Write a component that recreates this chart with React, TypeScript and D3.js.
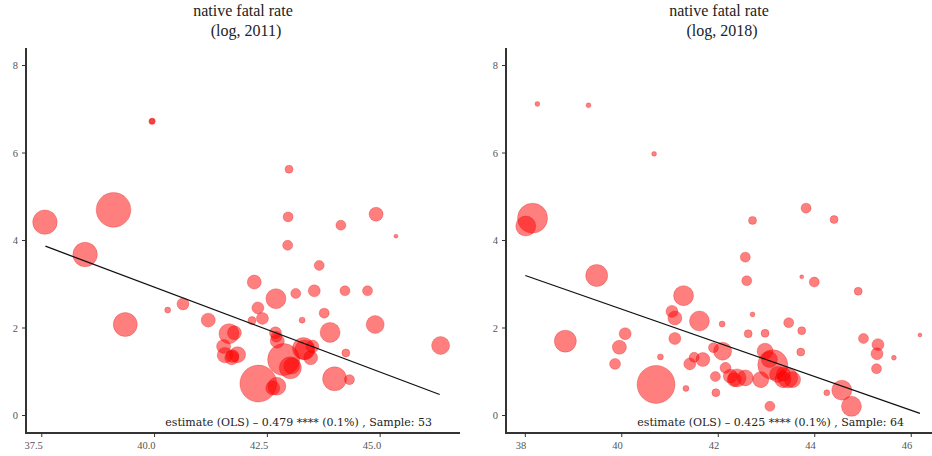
import React from "react";
import * as d3 from "d3";

// ---- Data ----
// Left panel: 2011
const xs2011 = [37.57, 39.09, 39.94, 39.95, 42.98, 42.96, 44.91, 44.13, 45.35, 38.46, 42.95, 43.65, 42.21, 42.69, 43.13, 43.54, 44.22, 44.72, 40.63, 40.29, 42.29, 42.39, 42.16, 43.76, 43.27, 41.19, 39.35, 44.89, 43.89, 41.65, 41.77, 46.34, 42.68, 42.72, 41.53, 41.84, 41.71, 43.3, 43.33, 43.46, 44.24, 42.86, 43.01, 43.04, 42.3, 42.71, 42.62, 43.99, 44.32, 41.56, 41.73, 42.7, 43.5];
const ys2011 = [4.42, 4.7, 6.72, 6.73, 5.63, 4.54, 4.6, 4.35, 4.1, 3.68, 3.89, 3.43, 3.05, 2.67, 2.79, 2.85, 2.85, 2.85, 2.55, 2.41, 2.46, 2.22, 2.17, 2.34, 2.18, 2.18, 2.08, 2.08, 1.9, 1.87, 1.89, 1.6, 1.89, 1.7, 1.58, 1.39, 1.32, 1.53, 1.5, 1.32, 1.43, 1.28, 1.09, 1.13, 0.73, 0.67, 0.63, 0.84, 0.82, 1.38, 1.36, 1.8, 1.58];
const sz2011 = [150, 300, 9, 9, 16, 25, 49, 25, 4, 150, 25, 25, 49, 100, 25, 36, 25, 25, 36, 9, 36, 36, 16, 25, 9, 49, 144, 81, 100, 100, 49, 81, 36, 49, 49, 64, 49, 120, 100, 49, 16, 256, 121, 64, 340, 81, 49, 144, 25, 60, 40, 30, 40];

// Right panel: 2018
const xs2018 = [38.25, 39.31, 40.67, 42.71, 43.82, 44.4, 38.15, 38.01, 42.56, 42.59, 43.73, 43.99, 44.9, 39.48, 41.28, 38.83, 40.07, 39.95, 39.86, 40.71, 40.8, 41.04, 41.1, 41.1, 41.61, 41.33, 41.41, 41.5, 41.68, 42.08, 42.71, 42.62, 42.97, 43.46, 43.73, 43.71, 45.01, 45.31, 45.29, 45.28, 45.64, 46.18, 44.25, 44.56, 44.76, 43.07, 41.95, 41.94, 41.9, 42.09, 42.15, 42.25, 42.39, 42.56, 42.88, 42.97, 43.13, 43.06, 43.23, 43.34, 43.44, 43.54, 42.33, 43.35];
const ys2018 = [7.12, 7.09, 5.98, 4.46, 4.74, 4.48, 4.51, 4.33, 3.62, 3.08, 3.17, 3.05, 2.84, 3.2, 2.74, 1.7, 1.87, 1.56, 1.18, 0.71, 1.34, 2.38, 2.23, 1.76, 2.16, 0.62, 1.18, 1.33, 1.28, 2.09, 2.31, 1.87, 1.88, 2.12, 1.94, 1.45, 1.76, 1.62, 1.41, 1.07, 1.32, 1.84, 0.52, 0.58, 0.21, 0.21, 0.52, 0.89, 1.55, 1.47, 1.09, 0.9, 0.86, 0.86, 0.82, 1.47, 1.16, 1.28, 0.94, 0.82, 0.86, 0.82, 0.82, 0.95];
const sz2018 = [6, 6, 6, 16, 25, 16, 225, 100, 25, 25, 4, 25, 16, 121, 100, 121, 36, 49, 30, 360, 9, 36, 49, 36, 100, 9, 36, 25, 49, 9, 6, 16, 16, 25, 16, 16, 25, 36, 36, 25, 6, 4, 9, 100, 100, 25, 16, 25, 25, 81, 30, 49, 81, 64, 64, 64, 225, 64, 64, 64, 100, 64, 49, 49];

// Regression line endpoints [x, y]
const fit2011X = [37.58, 46.32];
const fit2011Y = [3.87, 0.48];
const fit2018X = [38.0, 46.18];
const fit2018Y = [3.2, 0.05];

const yTicks = [0, 2, 4, 6, 8];
const xTicks2011 = [37.5, 40.0, 42.5, 45.0];
const xTicks2018 = [38, 40, 42, 44, 46];

const titles = ["native fatal rate", "native fatal rate"];
const subtitles = ["(log, 2011)", "(log, 2018)"];
const notes = [
  "estimate (OLS)  \u2013 0.479 **** (0.1%) ,  Sample: 53",
  "estimate (OLS)  \u2013 0.425 **** (0.1%) ,  Sample: 64",
];

type PanelProps = {
  xs: number[];
  ys: number[];
  sz: number[];
  fitX: number[];
  fitY: number[];
  xDomain: [number, number];
  xRange: [number, number];
  xTicks: number[];
  xFmt: (v: number) => string;
  title: string;
  subtitle: string;
  note: string;
};

const yScale = d3.scaleLinear().domain([-0.4, 8.4]).range([433, 48]);
const rScale = d3.scaleSqrt().domain([0, 361]).range([0, 19]);

function Panel(p: PanelProps) {
  const x = d3.scaleLinear().domain(p.xDomain).range(p.xRange);
  const [x0, x1] = p.xRange;
  const cx = (x0 + x1) / 2;
  const line = d3
    .line<number>()
    .x((_, i) => x(p.fitX[i]))
    .y((_, i) => yScale(p.fitY[i]));
  const order = d3.range(p.xs.length).sort((a, b) => p.sz[b] - p.sz[a]);
  const font = "'Liberation Serif', 'Times New Roman', serif";
  return (
    <g>
      <text x={cx} y={16} textAnchor="middle" fontFamily={font} fontSize={16} fill="#222">
        {p.title}
      </text>
      <text x={cx + 3} y={36} textAnchor="middle" fontFamily={font} fontSize={16} fill="#222">
        {p.subtitle}
      </text>
      {order.map((i) => (
        <circle
          key={i}
          cx={x(p.xs[i])}
          cy={yScale(p.ys[i])}
          r={rScale(p.sz[i])}
          fill="#ff0000"
          fillOpacity={0.5}
          stroke="#cc0000"
          strokeOpacity={0.3}
          strokeWidth={0.8}
        />
      ))}
      <path d={line(p.fitX) || ""} fill="none" stroke="#111" strokeWidth={1.3} />
      {/* axes */}
      <line x1={x0} x2={x0} y1={48} y2={434} stroke="#333" strokeWidth={2} />
      <line x1={x0 - 1} x2={x1} y1={433} y2={433} stroke="#333" strokeWidth={2} />
      {yTicks.map((t) => (
        <g key={t}>
          <line x1={x0 - 4} x2={x0} y1={yScale(t)} y2={yScale(t)} stroke="#333" strokeWidth={1} />
          <text x={x0 - 8} y={yScale(t) + 3.5} textAnchor="end" fontFamily={font} fontSize={10.5} fill="#555">
            {t}
          </text>
        </g>
      ))}
      {p.xTicks.map((t) => (
        <g key={t}>
          <line x1={x(t)} x2={x(t)} y1={433} y2={437} stroke="#333" strokeWidth={1} />
          <text x={x(t) + 1} y={449} textAnchor="end" fontFamily={font} fontSize={10.5} fill="#555">
            {p.xFmt(t)}
          </text>
        </g>
      ))}
      <text x={x1 - 28} y={426} textAnchor="end" fontFamily="'DejaVu Serif', Georgia, serif" fontSize={11} fill="#222">
        {p.note}
      </text>
    </g>
  );
}

export default function App() {
  return (
    <svg
      width={932}
      height={456}
      style={{ position: "absolute", left: 0, top: 0, background: "#fff" }}
    >
      <rect width={932} height={456} fill="#fff" />
      <Panel
        xs={xs2011}
        ys={ys2011}
        sz={sz2011}
        fitX={fit2011X}
        fitY={fit2011Y}
        xDomain={[37.15, 46.77]}
        xRange={[26, 460]}
        xTicks={xTicks2011}
        xFmt={d3.format(".1f")}
        title={titles[0]}
        subtitle={subtitles[0]}
        note={notes[0]}
      />
      <Panel
        xs={xs2018}
        ys={ys2018}
        sz={sz2018}
        fitX={fit2018X}
        fitY={fit2018Y}
        xDomain={[37.6, 46.43]}
        xRange={[506, 932]}
        xTicks={xTicks2018}
        xFmt={d3.format("d")}
        title={titles[1]}
        subtitle={subtitles[1]}
        note={notes[1]}
      />
    </svg>
  );
}
